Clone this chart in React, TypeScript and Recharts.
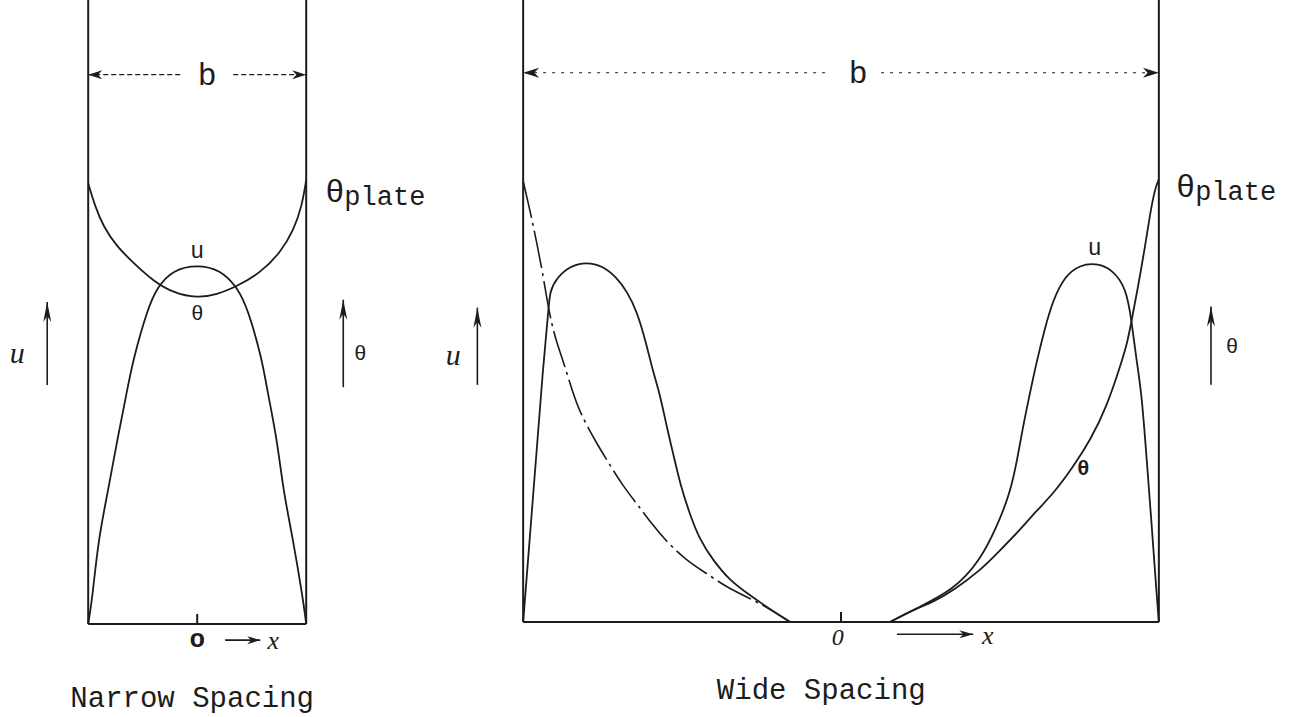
import React from 'react';
import { LineChart, Line, XAxis, YAxis, ReferenceLine, ReferenceDot } from 'recharts';

// x is measured in plate spacings b (plates at -0.5 and 0.5, centre line at 0)
// y is the profile height (0 = bottom line), same units for u and theta

// narrow spacing
const narrowThetaX = [-0.5, -0.468, -0.43, -0.368, -0.292, -0.2, -0.108, 0, 0.09, 0.182, 0.289, 0.381, 0.442, 0.48, 0.5];
const narrowThetaY = [0.791, 0.749, 0.713, 0.677, 0.648, 0.615, 0.594, 0.585, 0.591, 0.606, 0.63, 0.666, 0.707, 0.749, 0.797];

const narrowUX = [-0.5, -0.482, -0.454, -0.408, -0.367, -0.321, -0.294, -0.229, -0.183, -0.11, 0, 0.106, 0.183, 0.234, 0.298, 0.321, 0.367, 0.394, 0.44, 0.486, 0.5];
const narrowUY = [0, 0.043, 0.151, 0.241, 0.33, 0.42, 0.474, 0.564, 0.605, 0.636, 0.645, 0.636, 0.605, 0.564, 0.474, 0.42, 0.33, 0.241, 0.151, 0.043, 0];

// wide spacing, left and right halves of each profile
const wideThetaLeftX = [-0.5, -0.489, -0.478, -0.468, -0.46, -0.45, -0.437, -0.423, -0.41, -0.384, -0.368, -0.342, -0.319, -0.3, -0.274, -0.243, -0.211, -0.18, -0.148, -0.117, -0.08];
const wideThetaLeftY = [0.794, 0.74, 0.68, 0.62, 0.563, 0.512, 0.47, 0.417, 0.375, 0.321, 0.291, 0.243, 0.21, 0.18, 0.144, 0.111, 0.087, 0.063, 0.045, 0.027, 0];

const wideThetaRightX = [0.077, 0.114, 0.145, 0.177, 0.219, 0.245, 0.281, 0.308, 0.334, 0.365, 0.392, 0.418, 0.442, 0.451, 0.457, 0.467, 0.478, 0.486, 0.494, 0.5];
const wideThetaRightY = [0, 0.022, 0.036, 0.057, 0.093, 0.123, 0.165, 0.201, 0.231, 0.279, 0.327, 0.387, 0.47, 0.506, 0.542, 0.602, 0.674, 0.734, 0.781, 0.797];

const wideULeftX = [-0.5, -0.484, -0.468, -0.46, -0.458, -0.447, -0.426, -0.401, -0.374, -0.353, -0.337, -0.321, -0.306, -0.296, -0.285, -0.274, -0.264, -0.253, -0.24, -0.222, -0.201, -0.175, -0.148, -0.117, -0.08];
const wideULeftY = [0, 0.231, 0.47, 0.563, 0.596, 0.62, 0.641, 0.648, 0.641, 0.62, 0.596, 0.56, 0.5, 0.452, 0.411, 0.351, 0.303, 0.249, 0.201, 0.147, 0.111, 0.075, 0.052, 0.027, 0];

const wideURightX = [0.077, 0.114, 0.177, 0.219, 0.245, 0.266, 0.277, 0.286, 0.297, 0.308, 0.321, 0.333, 0.352, 0.376, 0.401, 0.426, 0.449, 0.457, 0.465, 0.473, 0.481, 0.489, 0.496, 0.5];
const wideURightY = [0, 0.022, 0.057, 0.111, 0.171, 0.232, 0.291, 0.35, 0.411, 0.47, 0.53, 0.578, 0.623, 0.643, 0.646, 0.636, 0.601, 0.542, 0.47, 0.411, 0.291, 0.171, 0.057, 0];

const toRows = (xs: number[], ys: number[]) => xs.map((x, i) => ({ x, y: ys[i] }));

const INK = '#1c1c1c';
const MONO = "'Liberation Mono', 'DejaVu Sans Mono', monospace";
const SERIF = "'Liberation Serif', 'DejaVu Serif', serif";
const SANS = "'Liberation Sans', 'DejaVu Sans', sans-serif";

// line with a filled arrow head at its second point
const arrow = (dash?: string, len = 14, half = 4.5, width = 1.6) => (p: any) => {
  const { x1, y1, x2, y2 } = p;
  const dx = x2 - x1;
  const dy = y2 - y1;
  const d = Math.hypot(dx, dy) || 1;
  const ux = dx / d;
  const uy = dy / d;
  const bx = x2 - ux * len;
  const by = y2 - uy * len;
  const nx = x2 - ux * len * 0.7;
  const ny = y2 - uy * len * 0.7;
  const pts = `${x2},${y2} ${bx - uy * half},${by + ux * half} ${nx},${ny} ${bx + uy * half},${by - ux * half}`;
  return (
    <g>
      <line x1={x1} y1={y1} x2={x2} y2={y2} stroke={INK} strokeWidth={width} strokeDasharray={dash} />
      <polygon points={pts} fill={INK} />
    </g>
  );
};

const plain = (width = 2) => (p: any) => (
  <line x1={p.x1} y1={p.y1} x2={p.x2} y2={p.y2} stroke={INK} strokeWidth={width} />
);

type Note = {
  x: number;
  y: number;
  text: React.ReactNode;
  size?: number;
  family?: string;
  anchor?: 'start' | 'middle' | 'end';
  italic?: boolean;
  bold?: boolean;
  baseline?: 'central' | 'alphabetic';
};

const note = (key: string, n: Note) => (
  <ReferenceDot
    key={key}
    x={n.x}
    y={n.y}
    r={1}
    ifOverflow="visible"
    shape={(p: any) => (
      <text
        x={p.cx}
        y={p.cy}
        fill={INK}
        fontSize={n.size ?? 22}
        fontFamily={n.family ?? MONO}
        fontStyle={n.italic ? 'italic' : 'normal'}
        fontWeight={n.bold ? 'bold' : 'normal'}
        textAnchor={n.anchor ?? 'middle'}
        dominantBaseline={n.baseline ?? 'central'}
      >
        {n.text}
      </text>
    )}
  />
);

const seg = (key: string, a: [number, number], b: [number, number], shape: any) => (
  <ReferenceLine
    key={key}
    segment={[{ x: a[0], y: a[1] }, { x: b[0], y: b[1] }]}
    ifOverflow="visible"
    shape={shape}
  />
);

const frame = (top: number) => [
  seg('wl', [-0.5, 0], [-0.5, top], plain(2)),
  seg('wr', [0.5, 0], [0.5, top], plain(2)),
  seg('bot', [-0.5, 0], [0.5, 0], plain(2)),
  seg('tick', [0, 0], [0, 0.018], plain(2)),
];

const thetaPlate = (
  <>
    <tspan fontSize={32}>θ</tspan>
    <tspan fontSize={27} dy={3}>plate</tspan>
  </>
);

const App: React.FC = () => {
  return (
    <div style={{ position: 'absolute', left: 0, top: 0, width: 1294, height: 717, overflow: 'hidden', background: '#fff' }}>
      <style>{'body{margin:0} svg{overflow:visible}'}</style>

      <div style={{ position: 'absolute', left: 0, top: 0 }}>
        <LineChart width={437} height={717} margin={{ top: 0, right: 0, bottom: 93, left: 1 }}>
          <XAxis type="number" dataKey="x" domain={[-0.9, 1.1]} allowDataOverflow hide />
          <YAxis type="number" domain={[0, 1.12]} allowDataOverflow hide />
          {frame(1.12)}
          <Line data={toRows(narrowThetaX, narrowThetaY)} dataKey="y" type="basis" stroke={INK} strokeWidth={1.8} dot={false} isAnimationActive={false} />
          <Line data={toRows(narrowUX, narrowUY)} dataKey="y" type="basis" stroke={INK} strokeWidth={1.8} dot={false} isAnimationActive={false} />
          {seg('bl', [-0.078, 0.986], [-0.5, 0.986], arrow('5 3', 14, 4.5, 1.4))}
          {seg('br', [0.165, 0.986], [0.5, 0.986], arrow('5 3', 14, 4.5, 1.4))}
          {seg('ua', [-0.688, 0.429], [-0.688, 0.578], arrow(undefined, 20, 4, 1.6))}
          {seg('ta', [0.67, 0.425], [0.67, 0.582], arrow(undefined, 20, 4, 1.6))}
          {seg('xa', [0.128, -0.029], [0.289, -0.029], arrow(undefined, 13, 4, 1.8))}
          {note('b', { x: 0.046, y: 0.986, text: 'b', size: 31, family: SANS })}
          {note('u', { x: 0, y: 0.668, text: 'u', size: 23 })}
          {note('t', { x: 0, y: 0.556, text: 'θ', size: 21 })}
          {note('tp', { x: 0.587, y: 0.758, text: thetaPlate, anchor: 'start', baseline: 'alphabetic' })}
          {note('ul', { x: -0.826, y: 0.487, text: 'u', size: 30, family: SERIF, italic: true })}
          {note('tl', { x: 0.748, y: 0.483, text: 'θ', size: 21 })}
          {note('o', { x: 0, y: -0.029, text: 'o', size: 26, bold: true })}
          {note('x', { x: 0.349, y: -0.029, text: 'x', size: 26, family: SERIF, italic: true })}
          {note('cap', { x: -0.023, y: -0.136, text: 'Narrow Spacing', size: 29 })}
        </LineChart>
      </div>

      <div style={{ position: 'absolute', left: 396, top: 0 }}>
        <LineChart width={890} height={717} margin={{ top: 0, right: 0, bottom: 95, left: 0 }}>
          <XAxis type="number" dataKey="x" domain={[-0.7, 0.7]} allowDataOverflow hide />
          <YAxis type="number" domain={[0, 1.12]} allowDataOverflow hide />
          {frame(1.12)}
          <Line data={toRows(wideThetaLeftX, wideThetaLeftY)} dataKey="y" type="basis" stroke={INK} strokeWidth={1.6} strokeDasharray="38 5 3 5" dot={false} isAnimationActive={false} />
          <Line data={toRows(wideThetaRightX, wideThetaRightY)} dataKey="y" type="basis" stroke={INK} strokeWidth={1.8} dot={false} isAnimationActive={false} />
          <Line data={toRows(wideULeftX, wideULeftY)} dataKey="y" type="basis" stroke={INK} strokeWidth={1.8} dot={false} isAnimationActive={false} />
          <Line data={toRows(wideURightX, wideURightY)} dataKey="y" type="basis" stroke={INK} strokeWidth={1.8} dot={false} isAnimationActive={false} />
          {seg('bl', [-0.025, 0.989], [-0.5, 0.989], arrow('3 6', 16, 5, 1.2))}
          {seg('br', [0.063, 0.989], [0.5, 0.989], arrow('3 6', 16, 5, 1.2))}
          {seg('ua', [-0.572, 0.427], [-0.572, 0.566], arrow(undefined, 20, 4, 1.6))}
          {seg('ta', [0.582, 0.427], [0.582, 0.568], arrow(undefined, 20, 4, 1.6))}
          {seg('xa', [0.088, -0.022], [0.208, -0.022], arrow(undefined, 14, 4, 1.6))}
          {note('b', { x: 0.027, y: 0.989, text: 'b', size: 31, family: SANS })}
          {note('u', { x: 0.399, y: 0.672, text: 'u', size: 23 })}
          {note('t', { x: 0.381, y: 0.274, text: 'θ', size: 21, bold: true })}
          {note('tp', { x: 0.527, y: 0.766, text: thetaPlate, anchor: 'start', baseline: 'alphabetic' })}
          {note('ul', { x: -0.61, y: 0.481, text: 'u', size: 30, family: SERIF, italic: true })}
          {note('tl', { x: 0.615, y: 0.494, text: 'θ', size: 21 })}
          {note('o', { x: -0.005, y: -0.027, text: '0', size: 24, family: SERIF, italic: true })}
          {note('x', { x: 0.231, y: -0.025, text: 'x', size: 26, family: SERIF, italic: true })}
          {note('cap', { x: -0.031, y: -0.126, text: 'Wide Spacing', size: 29 })}
        </LineChart>
      </div>
    </div>
  );
};

export default App;
